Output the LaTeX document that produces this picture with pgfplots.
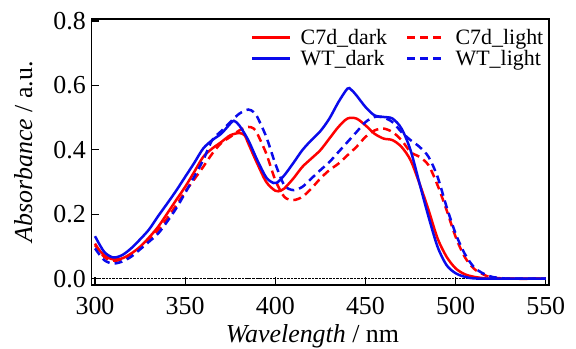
\documentclass[border=0pt]{standalone}
\usepackage{pgfplots}
\pgfplotsset{compat=1.18}
\usepackage{fontspec}
\setmainfont{Liberation Serif}
\definecolor{cred}{RGB}{255,0,0}
\definecolor{cblue}{RGB}{10,10,235}
\begin{document}
\begin{tikzpicture}
\begin{axis}[
  scale only axis, width=457.5bp, height=266bp,
  xmin=298.05, xmax=551.8, ymin=-0.0196, ymax=0.806,
  xtick={300,350,400,450,500,550}, ytick={0,0.2,0.4,0.6,0.8},
  xtick pos=bottom, ytick pos=left, tick align=inside,
  major tick length=8bp,
  axis line style={line width=1.2bp},
  every tick/.style={black, line width=1.2bp},
  /pgf/number format/assume math mode=true,
  tick label style={font=\fontsize{26}{30}\selectfont, inner sep=0pt},
  xticklabel style={yshift=-12bp},
  yticklabel style={xshift=-5.5bp, /pgf/number format/.cd, fixed, fixed zerofill, precision=1},
  xlabel={\textit{Wavelength} / nm}, ylabel={\textit{Absorbance} / a.u.},
  label style={font=\fontsize{26}{30}\selectfont},
  xlabel style={at={(axis description cs:0.483,-0.218)}, anchor=base},
  ylabel style={at={(axis description cs:-0.130,0.5)}, anchor=base},
  legend columns=2,
  legend image code/.code={\draw[#1] (0bp,0bp) -- (38bp,0bp);},
  legend style={draw=none, fill=none, inner sep=0pt,
    at={(axis description cs:0.3486,0.966)}, anchor=north west,
    font=\fontsize{22}{24}\selectfont, nodes={inner sep=1bp}, row sep=2bp,
    /tikz/every even column/.append style={column sep=18bp},
    /tikz/every odd column/.append style={column sep=8bp}},
  legend cell align=left,
  every axis plot/.append style={line width=2.5bp, smooth},
]
\addplot[black, densely dotted, line width=0.8bp, forget plot] coordinates {(300,0) (550,0)};
% C7d_dark
\addplot[cred] coordinates {
(300,0.104)(305,0.073)(310,0.060)(315,0.063)(320,0.078)(325,0.099)(330,0.128)(335,0.161)
(340,0.202)(345,0.244)(350,0.285)(355,0.331)(360,0.378)(365,0.404)(370,0.424)(375,0.445)
(380,0.452)(383,0.445)(385,0.420)(390,0.357)(395,0.300)(400,0.273)(403,0.273)(405,0.280)
(410,0.311)(415,0.347)(420,0.373)(425,0.399)(430,0.435)(435,0.471)(440,0.497)(445,0.497)
(450,0.476)(455,0.450)(460,0.435)(465,0.430)(470,0.409)(475,0.368)(480,0.295)(485,0.213)
(490,0.125)(495,0.068)(500,0.032)(505,0.014)(510,0.006)(515,0.002)(520,0.000)(550,0.000)};
\addlegendentry{C7d\_dark}
% C7d_light
\addplot[cred, dash pattern=on 8bp off 5bp] coordinates {
(300,0.109)(305,0.068)(310,0.056)(315,0.060)(320,0.076)(325,0.097)(330,0.122)(335,0.151)
(340,0.187)(345,0.228)(350,0.270)(355,0.308)(360,0.347)(365,0.388)(370,0.421)(375,0.440)
(380,0.460)(385,0.471)(388,0.466)(390,0.450)(395,0.388)(400,0.306)(405,0.254)(410,0.244)
(415,0.254)(420,0.280)(425,0.311)(430,0.337)(435,0.357)(440,0.383)(445,0.409)(450,0.440)
(455,0.460)(460,0.466)(465,0.455)(470,0.430)(475,0.393)(480,0.378)(485,0.352)(490,0.290)
(495,0.213)(500,0.130)(505,0.068)(510,0.032)(515,0.014)(520,0.004)(530,0.000)(550,0.000)};
\addlegendentry{C7d\_light}
% WT_dark
\addplot[cblue] coordinates {
(300,0.132)(305,0.084)(310,0.066)(315,0.073)(320,0.094)(325,0.122)(330,0.153)(335,0.194)
(340,0.233)(345,0.273)(350,0.316)(355,0.359)(360,0.404)(365,0.430)(370,0.450)(375,0.481)
(377,0.490)(380,0.476)(385,0.430)(390,0.368)(395,0.314)(399,0.297)(401,0.298)(405,0.321)
(410,0.359)(415,0.399)(420,0.430)(425,0.458)(430,0.497)(435,0.548)(440,0.590)(442,0.587)
(445,0.569)(450,0.533)(455,0.507)(460,0.502)(465,0.497)(470,0.466)(475,0.399)(480,0.295)
(485,0.192)(490,0.099)(495,0.042)(500,0.017)(505,0.006)(510,0.001)(520,0.000)(550,0.000)};
\addlegendentry{WT\_dark}
% WT_light
\addplot[cblue, dash pattern=on 8bp off 5bp] coordinates {
(300,0.094)(305,0.058)(310,0.047)(315,0.053)(320,0.068)(325,0.091)(330,0.115)(335,0.140)
(340,0.177)(345,0.218)(350,0.266)(355,0.316)(360,0.368)(365,0.430)(370,0.458)(375,0.486)
(380,0.512)(385,0.525)(388,0.517)(390,0.502)(395,0.440)(400,0.357)(405,0.290)(410,0.275)
(415,0.285)(420,0.311)(425,0.337)(430,0.362)(435,0.393)(440,0.424)(445,0.455)(450,0.486)
(455,0.502)(460,0.500)(465,0.486)(470,0.455)(475,0.430)(480,0.409)(485,0.378)(490,0.316)
(495,0.223)(500,0.140)(505,0.078)(510,0.037)(515,0.017)(520,0.006)(525,0.002)(530,0.000)(550,0.000)};
\addlegendentry{WT\_light}
\end{axis}
\pgfresetboundingbox
\useasboundingbox (-91.5bp,-64bp) rectangle (484.5bp,285bp);
\end{tikzpicture}
\end{document}
